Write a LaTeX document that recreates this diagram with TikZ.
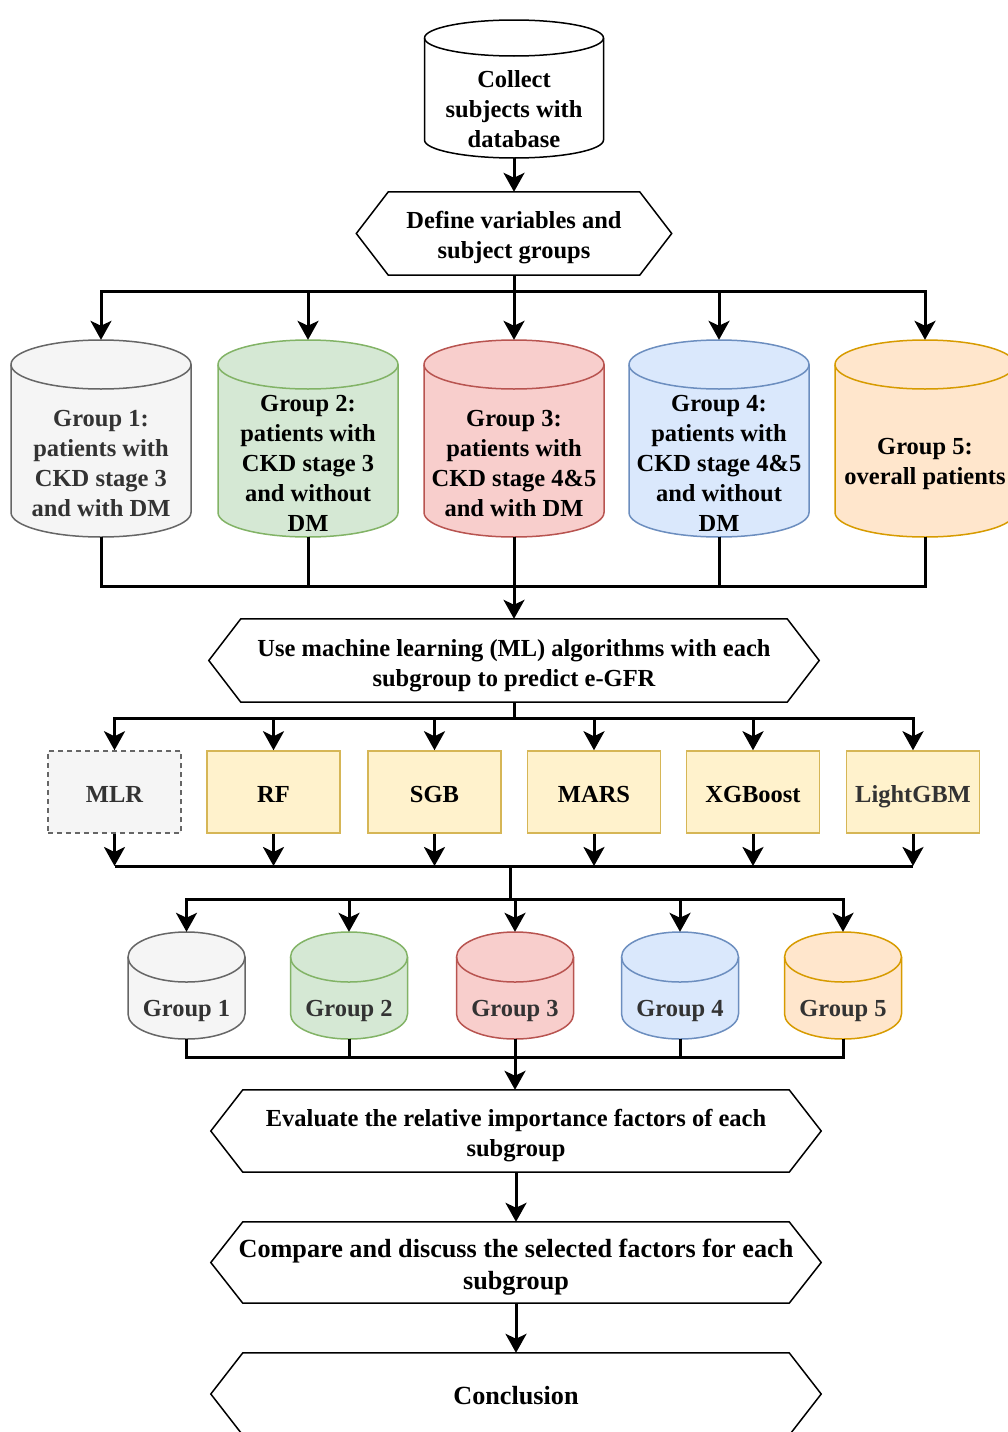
\documentclass[tikz,border=0pt]{standalone}
\usepackage{fontspec}
\setmainfont{Liberation Serif}
\usetikzlibrary{arrows.meta}
\definecolor{grayF}{HTML}{F5F5F5}\definecolor{grayD}{HTML}{666666}
\definecolor{greenF}{HTML}{D5E8D4}\definecolor{greenD}{HTML}{82B366}
\definecolor{redF}{HTML}{F8CECC}\definecolor{redD}{HTML}{B85450}
\definecolor{blueF}{HTML}{DAE8FC}\definecolor{blueD}{HTML}{6C8EBF}
\definecolor{orangeF}{HTML}{FFE6CC}\definecolor{orangeD}{HTML}{D79B00}
\definecolor{yelF}{HTML}{FFF2CC}\definecolor{yelD}{HTML}{D6B656}
\definecolor{txtgray}{HTML}{333333}
\tikzset{
  lbl/.style={font=\fontsize{24.5}{30}\selectfont\bfseries, align=center, inner sep=0pt},
  big/.style={font=\fontsize{26.2}{32}\selectfont\bfseries, align=center, inner sep=0pt},
  flow/.style={line width=3pt, draw=black},
  arr/.style={flow, -{Stealth[length=19pt,width=21pt,inset=5pt]}},
  shp/.style={line width=1.5pt},
  hexbox/.style={inner sep=0pt},
  algo/.style={draw=yelD, fill=yelF, line width=1.5pt, minimum width=133pt, minimum height=82pt},
  cgray/.style={shp, draw=grayD, fill=grayF},
  cgreen/.style={shp, draw=greenD, fill=greenF},
  cred/.style={shp, draw=redD, fill=redF},
  cblue/.style={shp, draw=blueD, fill=blueF},
  corange/.style={shp, draw=orangeD, fill=orangeF},
  cwhite/.style={shp, draw=black, fill=white},
}
% hexagon outline around a node
\newcommand\hexa[1]{\draw[shp] (#1.west) -- ([xshift=32pt]#1.north west) -- ([xshift=-32pt]#1.north east) -- (#1.east) -- ([xshift=-32pt]#1.south east) -- ([xshift=32pt]#1.south west) -- cycle;}
% cylinder: name, cx, top, bottom, half width, ry, style
\newcommand\dbcyl[7]{%
  \path[#7] (#2-#5,#3+#6) -- (#2-#5,#4-#6) arc[start angle=180,end angle=360,x radius=#5pt,y radius=#6pt] -- (#2+#5,#3+#6) arc[start angle=0,end angle=180,x radius=#5pt,y radius=#6pt] -- cycle;
  \draw[#7,fill=none] (#2-#5,#3+#6) arc[start angle=180,end angle=360,x radius=#5pt,y radius=#6pt];
  \node[inner sep=0pt, minimum width=#5*2pt, minimum height={#4pt-#3pt}] (#1) at (#2,{(#3+#4)/2}) {};
}
\begin{document}
\begin{tikzpicture}[x=1pt,y=-1pt]
\useasboundingbox (0,0) rectangle (1008,1432);

% top database
\dbcyl{collect}{514}{20}{158}{89.5}{18}{cwhite}
\node[lbl] (collectt) at (514,109) {Collect\\subjects with\\database};

% define
\node[hexbox, minimum width=315pt, minimum height=83pt] (def) at (514,233.5) {};
\hexa{def}
\node[lbl] (deft) at (514,238) {Define variables and\\subject groups};
\draw[arr] (collect.south) -- (def.north);

% groups
\dbcyl{g1}{101}{340}{537}{90}{24.5}{cgray}
\dbcyl{g2}{308}{340}{537}{90}{24.5}{cgreen}
\dbcyl{g3}{514}{340}{537}{90}{24.5}{cred}
\dbcyl{g4}{719}{340}{537}{90}{24.5}{cblue}
\dbcyl{g5}{925}{340}{537}{90}{24.5}{corange}
\node[lbl, text=txtgray] (g1t) at (101,464) {Group 1:\\patients with\\CKD stage 3\\and with DM};
\node[lbl] (g2t) at (308,463.5) {Group 2:\\patients with\\CKD stage 3\\and without\\DM};
\node[lbl] (g3t) at (514,464) {Group 3:\\patients with\\CKD stage 4\&5\\and with DM};
\node[lbl] (g4t) at (719,463.5) {Group 4:\\patients with\\CKD stage 4\&5\\and without\\DM};
\node[lbl] (g5t) at (925,464) {Group 5:\\overall patients};

\coordinate (b1) at (514,291);
\draw[flow] (def.south) -- (b1);
\foreach \g in {g1,g2,g3,g4,g5} \draw[arr] (b1) -| (\g.north);

% ML hexagon
\node[hexbox, minimum width=610pt, minimum height=83pt] (ml) at (514,660.5) {};
\hexa{ml}
\node[lbl] (mlt) at (514,666) {Use machine learning (ML) algorithms with each\\subgroup to predict e-GFR};
\coordinate (b2) at (514,586);
\foreach \g in {g1,g2,g3,g4,g5} \draw[flow] (\g.south) |- (b2);
\draw[arr] (b2) -- (ml.north);

% algorithms
\node[draw=grayD, fill=grayF, line width=1.5pt, dash pattern=on 5pt off 4pt, minimum width=133pt, minimum height=82pt] (a1) at (114.5,792) {};
\node[algo] (a2) at (273.5,792) {};
\node[algo] (a3) at (434.5,792) {};
\node[algo] (a4) at (594,792) {};
\node[algo] (a5) at (753,792) {};
\node[algo] (a6) at (913,792) {};
\node[lbl, text=txtgray] (a1t) at (114.5,794) {MLR};
\node[lbl] (a2t) at (273.5,794) {RF};
\node[lbl] (a3t) at (434.5,794) {SGB};
\node[lbl] (a4t) at (594,794) {MARS};
\node[lbl] (a5t) at (753,794) {XGBoost};
\node[lbl, text=txtgray] (a6t) at (913,797) {LightGBM};
\coordinate (b3) at (514,718);
\draw[flow] (ml.south) -- (b3);
\foreach \a in {a1,a2,a3,a4,a5,a6} \draw[arr] (b3) -| (\a.north);

\coordinate (b4) at (510,866);
\draw[flow] (a1.south |- b4) -- (a6.south |- b4);
\foreach \a in {a1,a2,a3,a4,a5,a6} \draw[arr] (\a.south) -- (\a.south |- b4);

% lower groups
\dbcyl{h1}{186.5}{932}{1039}{58.5}{25}{cgray}
\dbcyl{h2}{349}{932}{1039}{58.5}{25}{cgreen}
\dbcyl{h3}{515}{932}{1039}{58.5}{25}{cred}
\dbcyl{h4}{680}{932}{1039}{58.5}{25}{cblue}
\dbcyl{h5}{843}{932}{1039}{58.5}{25}{corange}
\node[lbl, text=txtgray] (h1t) at (186.5,1011) {Group 1};
\node[lbl, text=txtgray] (h2t) at (349,1011) {Group 2};
\node[lbl, text=txtgray] (h3t) at (515,1011) {Group 3};
\node[lbl, text=txtgray] (h4t) at (680,1011) {Group 4};
\node[lbl, text=txtgray] (h5t) at (843,1011) {Group 5};
\coordinate (b5) at (510,899);
\draw[flow] (b4) -- (b5);
\foreach \h in {h1,h2,h3,h4,h5} \draw[arr] (b5) -| (\h.north);

% evaluate
\node[hexbox, minimum width=610pt, minimum height=82pt] (ev) at (516,1131) {};
\hexa{ev}
\node[lbl] (evt) at (516,1136) {Evaluate the relative importance factors of each\\subgroup};
\coordinate (b6) at (515,1057);
\foreach \h in {h1,h2,h3,h4,h5} \draw[flow] (\h.south) |- (b6);
\draw[arr] (b6) -- (b6 |- ev.north);

% compare
\node[hexbox, minimum width=610pt, minimum height=81pt] (cmp) at (516,1262.5) {};
\hexa{cmp}
\node[big] (cmpt) at (516,1267) {Compare and discuss the selected factors for each\\subgroup};
\draw[arr] (ev.south) -- (cmp.north);

% conclusion
\node[hexbox, minimum width=610pt, minimum height=82pt] (con) at (516,1394) {};
\hexa{con}
\node[big] (cont) at (516,1396) {Conclusion};
\draw[arr] (cmp.south) -- (con.north);
\end{tikzpicture}
\end{document}
